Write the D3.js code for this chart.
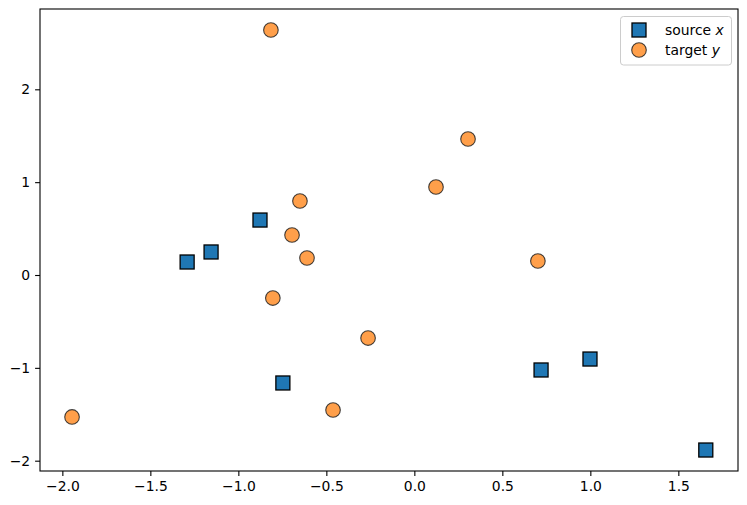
<!DOCTYPE html>
<html>
<head>
<meta charset="UTF-8">
<script src="https://d3js.org/d3.v7.min.js"></script>
<style>
  body { margin: 0; background: #fff; }
  text { font-family: "DejaVu Sans", sans-serif; }
</style>
</head>
<body>
<svg id="chart" width="747" height="505"></svg>
<script>
// source points (squares)
var sourceX = [-1.291, -1.155, -0.877, -0.747, 0.720, 0.998, 1.656];
var sourceY = [0.140, 0.248, 0.592, -1.163, -1.023, -0.905, -1.885];
// target points (circles)
var targetX = [-0.815, 0.305, 0.123, -0.650, -0.695, -0.610, 0.702, -0.804, -0.263, -0.462, -1.945];
var targetY = [2.639, 1.465, 0.948, 0.797, 0.431, 0.183, 0.151, -0.248, -0.679, -1.454, -1.529];
var xTicks = [-2.0, -1.5, -1.0, -0.5, 0.0, 0.5, 1.0, 1.5];
var yTicks = [-2, -1, 0, 1, 2];

var svg = d3.select("#chart");
var plotL = 40, plotR = 738, plotT = 9, plotB = 471;

var x = d3.scaleLinear().domain([-2.127, 1.839]).range([plotL, plotR]);
var y = d3.scaleLinear().domain([-2.111, 2.865]).range([plotB, plotT]);

var fmtX = function(d) { return d3.format(".1f")(d).replace("-", "\u2212"); };
var fmtY = function(d) { return String(d).replace("-", "\u2212"); };

var xAxis = svg.append("g")
    .attr("transform", "translate(0," + plotB + ")")
    .call(d3.axisBottom(x).tickValues(xTicks).tickFormat(fmtX).tickSize(4.9).tickPadding(4.9));
var yAxis = svg.append("g")
    .attr("transform", "translate(" + plotL + ",0)")
    .call(d3.axisLeft(y).tickValues(yTicks).tickFormat(fmtY).tickSize(4.9).tickPadding(4.9));

[xAxis, yAxis].forEach(function(a) {
    a.select(".domain").remove();
    a.attr("font-size", null).attr("font-family", null);
    a.selectAll("line").attr("stroke", "#000").attr("stroke-width", 1.1);
    a.selectAll("text").style("font-size", "13.9px").attr("fill", "#000");
});

// frame
svg.append("rect")
    .attr("x", plotL).attr("y", plotT)
    .attr("width", plotR - plotL).attr("height", plotB - plotT)
    .attr("fill", "none").attr("stroke", "#000").attr("stroke-width", 1.1);

var sq = 14;
svg.append("g").selectAll("rect")
    .data(d3.range(sourceX.length))
    .enter().append("rect")
    .attr("x", function(i) { return x(sourceX[i]) - sq / 2; })
    .attr("y", function(i) { return y(sourceY[i]) - sq / 2; })
    .attr("width", sq).attr("height", sq)
    .attr("fill", "#1f77b4")
    .attr("stroke", "#000").attr("stroke-width", 1.3);

svg.append("g").selectAll("circle")
    .data(d3.range(targetX.length))
    .enter().append("circle")
    .attr("cx", function(i) { return x(targetX[i]); })
    .attr("cy", function(i) { return y(targetY[i]); })
    .attr("r", 7.3)
    .attr("fill", "#ff7f0e").attr("fill-opacity", 0.75)
    .attr("stroke", "#222").attr("stroke-opacity", 0.85).attr("stroke-width", 1.1);

// legend
var lg = svg.append("g");
lg.append("rect")
    .attr("x", 620.5).attr("y", 16.5).attr("width", 111).attr("height", 48.5)
    .attr("rx", 3).attr("fill", "#fff").attr("fill-opacity", 0.8)
    .attr("stroke", "#ccc").attr("stroke-width", 1);
lg.append("rect")
    .attr("x", 639 - sq / 2).attr("y", 30 - sq / 2).attr("width", sq).attr("height", sq)
    .attr("fill", "#1f77b4").attr("stroke", "#000").attr("stroke-width", 1.3);
lg.append("circle")
    .attr("cx", 639).attr("cy", 50).attr("r", 7.3)
    .attr("fill", "#ff7f0e").attr("fill-opacity", 0.75)
    .attr("stroke", "#222").attr("stroke-opacity", 0.85).attr("stroke-width", 1.1);

var labels = [["source ", "x", 30], ["target ", "y", 50]];
labels.forEach(function(l) {
    var t = lg.append("text")
        .attr("x", 665).attr("y", l[2] + 5)
        .style("font-size", "13.9px").attr("fill", "#000");
    t.append("tspan").text(l[0]);
    t.append("tspan").attr("font-style", "italic").text(l[1]);
});
</script>
</body>
</html>
